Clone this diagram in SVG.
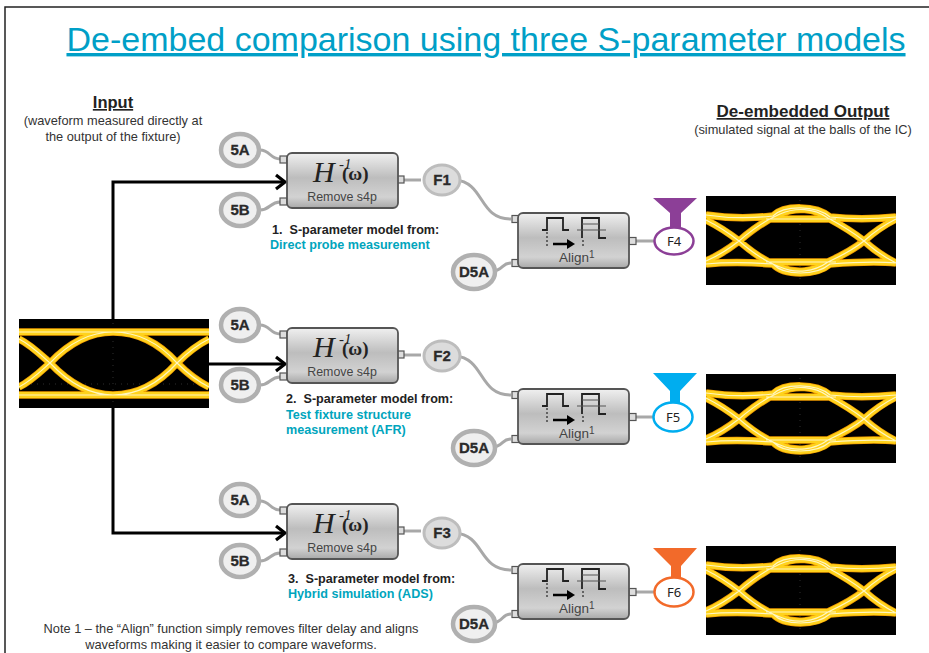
<svg xmlns="http://www.w3.org/2000/svg" width="929" height="653" viewBox="0 0 929 653">
<style>
text{font-family:"Liberation Sans",Arial,sans-serif;white-space:pre}
.serif{font-family:"Liberation Serif","Times New Roman",serif}
.lbl{font-weight:bold;font-size:15px;fill:#2a2a2a;text-anchor:middle;stroke:#2a2a2a;stroke-width:.3}
.port{fill:#ddd;stroke:#555;stroke-width:1.2}
.blk{fill:url(#g);stroke:#555;stroke-width:1.8}
.wire{fill:none;stroke:#a8a8a8;stroke-width:3}
.arr{fill:none;stroke:#000;stroke-width:3}
.cir{fill:#efefef;stroke:#b0b0b0;stroke-width:4.5}
.cirf{fill:#dcdcdc;stroke:#bdbdbd;stroke-width:3}
.note{font-size:12.8px;fill:#333;text-anchor:middle}
.ml{font-size:12.6px;font-weight:bold;fill:#222}
.mt{font-size:12.6px;font-weight:bold;fill:#00a5bd}
.fl{font-size:13px;fill:#222;text-anchor:middle;font-family:"Noto Sans",sans-serif}
.e{fill:none;stroke-linecap:butt}
.e1{stroke:#f09a00;stroke-width:7.5}
.e2{stroke:#ffd21a;stroke-width:6}
.e3{stroke:#fff6c0;stroke-width:1.2}
.grid{stroke:#3a3a3a;stroke-width:.8;fill:none;stroke-dasharray:1 5}
</style>
<defs>
<filter id="soft" x="-5%" y="-5%" width="110%" height="110%"><feGaussianBlur stdDeviation=".7"/></filter>
<linearGradient id="g" x1="0" y1="0" x2="0" y2="1"><stop offset="0" stop-color="#f0f0f0"/><stop offset=".45" stop-color="#bdbdbd"/><stop offset=".8" stop-color="#d2d2d2"/><stop offset="1" stop-color="#a8a8a8"/></linearGradient>
<marker id="ah" markerWidth="16" markerHeight="20" refX="11" refY="9" orient="auto" markerUnits="userSpaceOnUse"><path d="M2 2L11 9L2 16" fill="none" stroke="#000" stroke-width="3.200"/></marker>
<clipPath id="c1"><rect width="190" height="90"/></clipPath>
<path id="pIn" d="M0 13H190M0 76H190M0 20C12 26 22 36 31 44C50 64 70 76 94 76C120 76 140 64 158 44C168 34 178 26 190 20M0 68C12 62 22 52 31 44C50 24 70 13 94 13C120 13 140 24 158 44C168 54 178 62 190 68"/>
<path id="pOut" d="M0 19C20 22 40 23 67 20C78 9 110 9 124 21C150 24 170 23 190 21M0 68C20 66 40 66 67 68C78 80 110 80 124 68C150 66 170 65 190 67M60 23H130M60 66H130M0 24C12 30 24 38 33 45C48 58 60 66 74 71C90 78 108 76 122 66C135 60 148 53 158 45C168 36 178 29 190 23M0 65C12 60 24 52 33 45C48 32 60 24 74 18C90 11 108 12 122 22C135 29 148 37 158 45C168 54 178 61 190 67"/>
<g id="eyeIn">
<rect width="190" height="89" fill="#000"/>
<path class="grid" d="M94 4V86M0 65H190"/>
<g clip-path="url(#c1)" filter="url(#soft)">
<use href="#pIn" class="e e1"/><use href="#pIn" class="e e2"/><use href="#pIn" class="e e3"/>
</g>
</g>
<g id="eyeOut">
<rect width="190" height="89" fill="#000"/>
<path class="grid" d="M94 4V86"/>
<g clip-path="url(#c1)" filter="url(#soft)">
<use href="#pOut" class="e e1"/><use href="#pOut" class="e e2"/><use href="#pOut" class="e e3"/>
</g>
</g>
<g id="rm">
<path class="wire" d="M-26 -15C-16 -15 -16 -6 -6 -6"/>
<path class="wire" d="M-26 45C-16 45 -16 37 -6 37"/>
<path class="wire" d="M115 15H135"/>
<rect class="port" x="-6" y="-9" width="7" height="7"/>
<rect class="port" x="-6" y="33" width="7" height="7"/>
<rect class="port" x="111" y="11" width="7" height="7"/>
<rect class="blk" width="111" height="55" x="1" y="-12" rx="5"/>
<text class="serif" x="27" y="17" font-style="italic" font-size="30" fill="#222">H</text>
<text class="serif" x="53" y="4" font-style="italic" font-size="15" fill="#222">-1</text>
<text class="serif" x="56" y="15" font-size="19" font-weight="bold" fill="#222">(ω)</text>
<text x="56" y="36" font-size="12.400" fill="#444" text-anchor="middle">Remove s4p</text>
</g>
<g id="al">
<rect class="port" x="-6" y="1.500" width="7" height="7"/>
<rect class="port" x="-6" y="45.500" width="7" height="7"/>
<rect class="port" x="111" y="23.500" width="7" height="7"/>
<rect class="blk" width="111" height="55" y="-1" rx="5"/>
<path d="M24 16H29V4H45V16H51M64 24V4H81V24H88" fill="none" stroke="#222" stroke-width="1.800"/>
<path d="M59 16H88M64 10H81" fill="none" stroke="#555" stroke-width="1"/>
<path d="M29 18V34M65 26V34" fill="none" stroke="#444" stroke-width="1.500" stroke-dasharray="2 2"/>
<path d="M35 30H50" stroke="#000" stroke-width="2.500"/><path d="M49 25L57 30L49 35Z" fill="#000"/>
<text x="41" y="48" font-size="13.500" fill="#444">Align</text><text x="71" y="44" font-size="10" fill="#444">1</text>
</g>
</defs>
<rect width="929" height="653" fill="#fff"/>
<path d="M5 653V7H929" fill="none" stroke="#222" stroke-width="1.500"/>
<text x="486" y="51" font-size="34" fill="#009fc7" text-anchor="middle" text-decoration="underline">De-embed comparison using three S-parameter models</text>
<text x="113" y="108" font-size="16.500" font-weight="bold" fill="#222" text-anchor="middle" text-decoration="underline">Input</text>
<text class="note" x="113" y="125">(waveform measured directly at</text>
<text class="note" x="113" y="141">the output of the fixture)</text>
<text x="803" y="117" font-size="17" font-weight="bold" fill="#222" text-anchor="middle" text-decoration="underline">De-embedded Output</text>
<text class="note" x="803" y="134">(simulated signal at the balls of the IC)</text>
<text class="note" x="231" y="633">Note 1 – the “Align” function simply removes filter delay and aligns</text>
<text class="note" x="231" y="649">waveforms making it easier to compare waveforms.</text>
<g id="connectors">
<path class="arr" marker-end="url(#ah)" d="M113 320V182H285"/>
<path class="arr" marker-end="url(#ah)" d="M208 364H285"/>
<path class="arr" marker-end="url(#ah)" d="M113 408V533H285"/>
<path class="wire" d="M455 180C485 182 478 219 511 219"/>
<path class="wire" d="M455 356C485 358 478 395 511 395"/>
<path class="wire" d="M455 533C485 535 478 570 511 570"/>
<path class="wire" d="M490 272C505 270 501 263 511 263"/>
<path class="wire" d="M490 448C505 446 501 439 511 439"/>
<path class="wire" d="M490 624C505 622 501 614 511 614"/>
<path class="wire" d="M636 241H655M636 417H655M636 592H655"/>
</g>
<g id="input-eye"><use href="#eyeIn" x="19" y="319"/></g>
<g id="out1"><use href="#eyeOut" x="706" y="196"/></g>
<g id="out2"><use href="#eyeOut" x="706" y="374"/></g>
<g id="out3"><use href="#eyeOut" x="706" y="546"/></g>
<g id="rm1"><use href="#rm" x="286" y="165"/></g>
<g id="rm2"><use href="#rm" x="286" y="340"/></g>
<g id="rm3"><use href="#rm" x="286" y="516"/></g>
<g id="al1"><use href="#al" x="518" y="214"/></g>
<g id="al2"><use href="#al" x="518" y="390"/></g>
<g id="al3"><use href="#al" x="518" y="565"/></g>
<g id="n5a1"><ellipse class="cir" cx="240" cy="150" rx="19" ry="16"/><text class="lbl" x="240" y="155">5A</text></g>
<g id="n5b1"><ellipse class="cir" cx="240" cy="210" rx="19" ry="16"/><text class="lbl" x="240" y="215">5B</text></g>
<g id="n5a2"><ellipse class="cir" cx="240" cy="325" rx="19" ry="16"/><text class="lbl" x="240" y="330">5A</text></g>
<g id="n5b2"><ellipse class="cir" cx="240" cy="385" rx="19" ry="16"/><text class="lbl" x="240" y="390">5B</text></g>
<g id="n5a3"><ellipse class="cir" cx="240" cy="500" rx="19" ry="16"/><text class="lbl" x="240" y="505">5A</text></g>
<g id="n5b3"><ellipse class="cir" cx="240" cy="561" rx="19" ry="16"/><text class="lbl" x="240" y="566">5B</text></g>
<g id="f1"><ellipse class="cirf" cx="442" cy="180" rx="18" ry="15"/><text class="lbl" x="442" y="185">F1</text></g>
<g id="f2"><ellipse class="cirf" cx="442" cy="356" rx="18" ry="15"/><text class="lbl" x="442" y="361">F2</text></g>
<g id="f3"><ellipse class="cirf" cx="442" cy="533" rx="18" ry="15"/><text class="lbl" x="442" y="538">F3</text></g>
<g id="d1"><ellipse class="cir" cx="474" cy="272" rx="21" ry="17"/><text class="lbl" x="474" y="277">D5A</text></g>
<g id="d2"><ellipse class="cir" cx="474" cy="448" rx="21" ry="17"/><text class="lbl" x="474" y="453">D5A</text></g>
<g id="d3"><ellipse class="cir" cx="474" cy="624" rx="21" ry="17"/><text class="lbl" x="474" y="629">D5A</text></g>
<g id="f4"><path d="M653 198H697L681 213V230H670V213Z" fill="#8c3f97"/><ellipse cx="674" cy="241" rx="19.500" ry="13.500" fill="#fff" stroke="#8c3f97" stroke-width="2.500"/><text class="fl" x="674" y="246">F4</text></g>
<g id="f5"><path d="M653 373H697L680 391V404H670V391Z" fill="#00adef"/><ellipse cx="673" cy="417" rx="19.500" ry="14.500" fill="#fff" stroke="#00adef" stroke-width="2.500"/><text class="fl" x="673" y="422">F5</text></g>
<g id="f6"><path d="M653 548H697L681 566V579H671V566Z" fill="#f26a2a"/><ellipse cx="674" cy="592" rx="19.500" ry="14.500" fill="#fff" stroke="#f26a2a" stroke-width="2.500"/><text class="fl" x="674" y="597">F6</text></g>
<text class="ml" x="272" y="234">1.  S-parameter model from:</text>
<text class="mt" x="270" y="249">Direct probe measurement</text>
<text class="ml" x="286" y="403">2.  S-parameter model from:</text>
<text class="mt" x="286" y="419">Test fixture structure</text>
<text class="mt" x="286" y="434">measurement (AFR)</text>
<text class="ml" x="288" y="583">3.  S-parameter model from:</text>
<text class="mt" x="288" y="598">Hybrid simulation (ADS)</text>
</svg>
